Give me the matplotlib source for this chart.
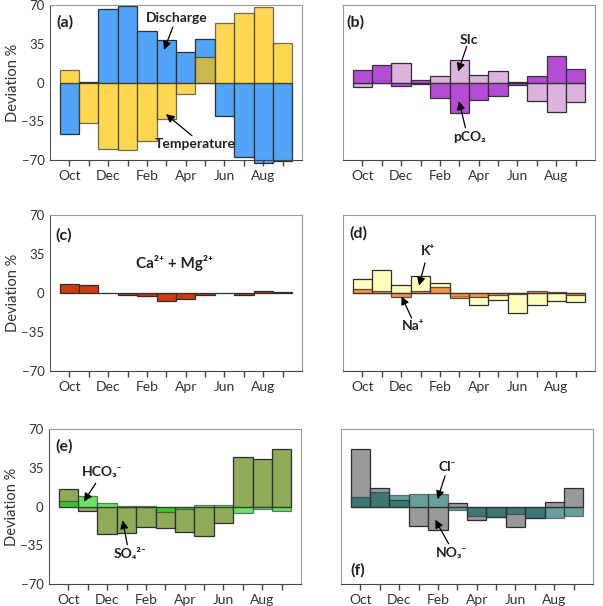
import matplotlib
matplotlib.use('Agg')
import matplotlib.pyplot as plt
import numpy as np

plt.rcParams['font.family'] = ['Lato', 'DejaVu Sans']

# Monthly deviation (%) from the annual mean, Oct .. Sep
months = ['Oct', 'Nov', 'Dec', 'Jan', 'Feb', 'Mar', 'Apr', 'May', 'Jun', 'Jul', 'Aug', 'Sep']
yticks = [-70, -35, 0, 35, 70]

discharge = [-46.5, 0.5, 66, 69.5, 46.5, 38.5, 28, 39.5, -30.5, -67.5, -73, -70.5]
temperature = [11, -36.5, -60.5, -61, -53, -33, -10.5, 23, 53.5, 62.5, 68, 36]

pco2 = [11, 15.5, -3.5, 2, -14, -27.5, -16, -12.5, -2, 5.5, 24, 12.5]
sic = [-4.5, 2, 18, -1, 6, 20.5, 6.5, 10.5, 0.5, -17, -27, -18]

ca_mg = [8, 7.2, 0.3, -1.8, -2.4, -6.9, -5.1, -1.5, -0.3, -2.1, 1.8, 0.6]

k = [12.5, 20.5, 7, 15.5, 9, -3, -10.5, -6, -18, -10.5, -7.5, -8.5]
na = [3.6, 1.5, -3.9, 1.5, 5.4, -4.5, -3.6, -1.5, -1, 1.5, 1.2, -1.5]

so4 = [15.5, -4.5, -24.8, -23.8, -18.7, -19.6, -23.4, -26.8, -14.5, 45, 43, 52]
hco3 = [5.4, 9.4, 3.6, 0.8, 0.3, -5.4, -2.4, 1.5, 1.5, -6, -2.4, -4.5]

no3 = [51.6, 16.5, 6, -18, -21.3, 3, -12, -9.6, -18.6, -10.5, 4, 16.5]
cl = [8.4, 13.5, 10.5, 11.4, 11.4, -3, -8.5, -9.6, -6.6, -10.5, -10.5, -8.4]

EDGE = '#2e2e2e'
TXT = '#333333'


def setup(ax, left_panel):
    x = np.arange(len(months))
    ax.set_xlim(-1, 12)
    ax.set_ylim(-70, 70)
    ax.set_xticks(x)
    ax.set_xticklabels([m if i % 2 == 0 else '' for i, m in enumerate(months)])
    ax.tick_params(axis='x', length=4, width=1, color='#444444', pad=3.5,
                   labelsize=10, labelcolor=TXT)
    for s in ['top', 'right']:
        ax.spines[s].set_color('#9a9a9a')
    ax.spines['bottom'].set_color('#444444')
    ax.spines['left'].set_color('#555555' if left_panel else '#9a9a9a')
    if left_panel:
        ax.set_yticks(yticks)
        ax.tick_params(axis='y', length=0, pad=4, labelsize=9.5, labelcolor=TXT)
        ax.set_ylabel('Deviation %', fontsize=10.5, color=TXT, labelpad=1)
    else:
        ax.set_yticks([])
    return x


def bars(ax, x, vals, color, alpha=1.0):
    ax.bar(x, vals, width=1.0, color=color, alpha=alpha, edgecolor=EDGE,
           linewidth=0.9, clip_on=False)


def note(ax, text, xy, xytext, tail):
    ax.annotate('', xy=xy, xytext=tail,
                arrowprops=dict(arrowstyle='-|>', color='black', lw=0.9,
                                mutation_scale=12, shrinkA=0, shrinkB=0))
    ax.text(xytext[0], xytext[1], text, ha='center', va='center',
            fontsize=10, fontweight='bold', color='#222222')


def tag(ax, text, x, y):
    ax.text(x, y, text, transform=ax.transAxes, fontsize=11.5,
            fontweight='bold', va='center', color='#222222')


fig = plt.figure(figsize=(6.03, 6.06), dpi=100)
W, H = 603, 606


def add_ax(l, t, w, h):
    return fig.add_axes([l / W, 1 - (t + h) / H, w / W, h / H])


ax_a = add_ax(50, 5, 252, 155)
ax_b = add_ax(343, 5, 252, 155)
ax_c = add_ax(50, 215, 252, 156)
ax_d = add_ax(343, 215, 252, 156)
ax_e = add_ax(49, 429, 252, 155)
ax_f = add_ax(341, 429, 252, 155)

# (a) discharge and temperature
x = setup(ax_a, True)
bars(ax_a, x, discharge, '#52a4f8')
bars(ax_a, x, temperature, '#ffc400', alpha=0.68)
note(ax_a, 'Discharge', (4.88, 29.5), (5.55, 58.5), (5.34, 50))
note(ax_a, 'Temperature', (4.98, -28.6), (6.5, -56), (6.32, -48))
tag(ax_a, '(a)', 0.027, 0.885)

# (b) pCO2 and SIc
x = setup(ax_b, False)
bars(ax_b, x, sic, '#dcb3dc')
bars(ax_b, x, pco2, '#b042d2', alpha=0.95)
note(ax_b, 'SIc', (4.94, 10), (5.5, 38.5), (5.38, 32.5))
note(ax_b, 'pCO₂', (4.98, -17), (5.55, -49), (5.32, -41))
tag(ax_b, '(b)', 0.015, 0.89)

# (c) Ca + Mg
x = setup(ax_c, True)
bars(ax_c, x, ca_mg, '#cc3a10')
ax_c.text(5.44, 27, 'Ca²⁺ + Mg²⁺', ha='center', va='center', fontsize=11,
          fontweight='bold', color='#222222')
tag(ax_c, '(c)', 0.02, 0.87)

# (d) K and Na
x = setup(ax_d, False)
bars(ax_d, x, k, '#ffffbf')
bars(ax_d, x, na, '#ee7a28', alpha=0.8)
note(ax_d, 'K⁺', (2.92, 6.6), (3.4, 37.5), (3.23, 27))
note(ax_d, 'Na⁺', (2.02, -3), (2.62, -29.5), (2.54, -22.5))
tag(ax_d, '(d)', 0.027, 0.885)

# (e) HCO3 and SO4
x = setup(ax_e, True)
bars(ax_e, x, so4, '#8fab5a')
bars(ax_e, x, hco3, '#10d010', alpha=0.62)
note(ax_e, 'HCO₃⁻', (0.8, 4.5), (1.75, 31.6), (1.41, 21))
note(ax_e, 'SO₄²⁻', (2.8, -12.6), (3.2, -42.7), (3.04, -34.5))
tag(ax_e, '(e)', 0.024, 0.886)

# (f) Cl and NO3
x = setup(ax_f, False)
bars(ax_f, x, no3, '#999999')
bars(ax_f, x, cl, '#00605a', alpha=0.6)
note(ax_f, 'Cl⁻', (3.98, 6.7), (4.46, 36), (4.37, 27.7))
note(ax_f, 'NO₃⁻', (3.86, -12), (4.72, -42), (4.55, -33.6))
tag(ax_f, '(f)', 0.037, 0.086)

fig.savefig('out.png', dpi=100)
